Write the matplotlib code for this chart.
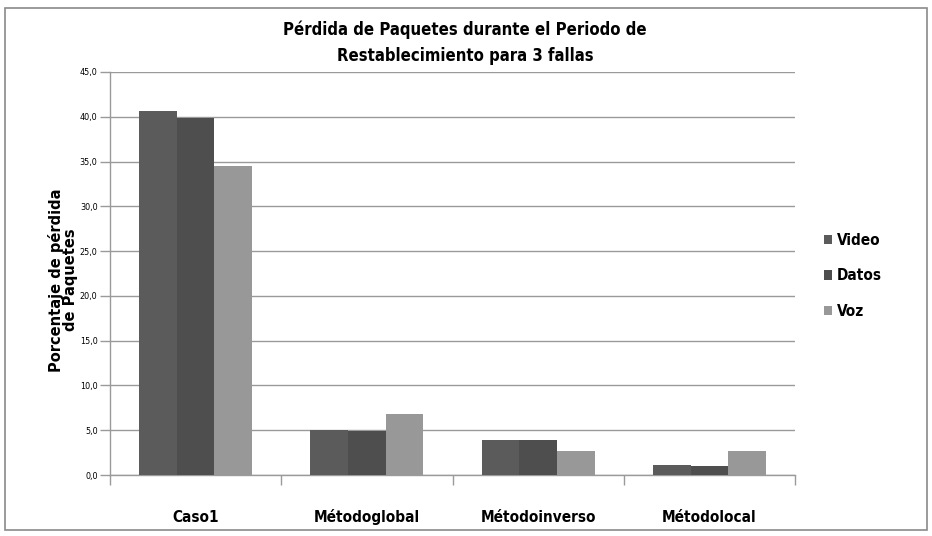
import matplotlib
matplotlib.use("Agg")
import matplotlib.pyplot as plt
from matplotlib.patches import Rectangle
from matplotlib import font_manager
import numpy as np

categories = ["Caso1", "Métodoglobal", "Métodoinverso", "Métodolocal"]
series_names = ["Video", "Datos", "Voz"]
video = [40.6, 5.0, 3.9, 1.1]
datos = [39.9, 4.9, 3.9, 1.0]
voz = [34.5, 6.8, 2.7, 2.7]
colors = ["#5b5b5b", "#4e4e4e", "#989898"]
yticks = [0, 5, 10, 15, 20, 25, 30, 35, 40, 45]

names = {f.name for f in font_manager.fontManager.ttflist}
cond = "Liberation Sans Narrow" if "Liberation Sans Narrow" in names else "DejaVu Sans"
cond_kw = {"family": cond}
if cond == "DejaVu Sans":
    cond_kw["stretch"] = "condensed"

fig = plt.figure(figsize=(9.32, 5.36), dpi=100)
ax = fig.add_axes([110/932, 1-475/536, (795-110)/932, (475-72)/536])

x = np.arange(len(categories))
w = 0.22
for i, (vals, c) in enumerate(zip([video, datos, voz], colors)):
    ax.bar(x + (i-1)*w, vals, width=w, color=c, label=series_names[i], zorder=3)

ax.set_xlim(-0.5, len(categories)-0.5)
ax.set_ylim(0, 45)
ax.set_yticks(yticks)
ax.set_yticklabels([f"{v:.1f}".replace(".", ",") for v in yticks], fontsize=6.5, **cond_kw)
ax.yaxis.grid(True, color="#9a9a9a", linewidth=1.0, zorder=0)
ax.set_axisbelow(True)

ax.set_xticks(np.arange(-0.5, len(categories)))
ax.set_xticklabels([])
ax.tick_params(axis="x", length=7, color="#9a9a9a", width=1)
ax.tick_params(axis="y", length=7, color="#9a9a9a", width=1, pad=2)
for i, c in enumerate(categories):
    ax.text(i, -0.105, c, transform=ax.get_xaxis_transform(), ha="center", va="center",
            fontsize=11, fontweight="bold", **cond_kw)

for s in ["top", "right"]:
    ax.spines[s].set_visible(False)
for s in ["left", "bottom"]:
    ax.spines[s].set_color("#9a9a9a")
    ax.spines[s].set_linewidth(1)

fig.text(465/932, 1-43/536, "Pérdida de Paquetes durante el Periodo de\nRestablecimiento para 3 fallas",
         ha="center", va="center", fontsize=12, fontweight="bold", linespacing=1.6, **cond_kw)

fig.text(63/932, 1-280/536, "Porcentaje de pérdida\nde Paquetes", rotation=90, ha="center", va="center",
         fontsize=10.5, fontweight="bold", family="DejaVu Sans", linespacing=0.85)

leg = ax.legend(loc="center left", bbox_to_anchor=(810/932, 1-276/536), bbox_transform=fig.transFigure,
                frameon=False, handlelength=0.55, handleheight=0.55, handletextpad=0.3,
                labelspacing=1.35, prop={"size": 11, "weight": "bold", **{k: v for k, v in cond_kw.items()}})

fig.add_artist(Rectangle((5/932, 1-530/536), 922/932, 522/536, transform=fig.transFigure,
                         fill=False, edgecolor="#8a8a8a", linewidth=1.2))

fig.savefig("out.png", dpi=100)
